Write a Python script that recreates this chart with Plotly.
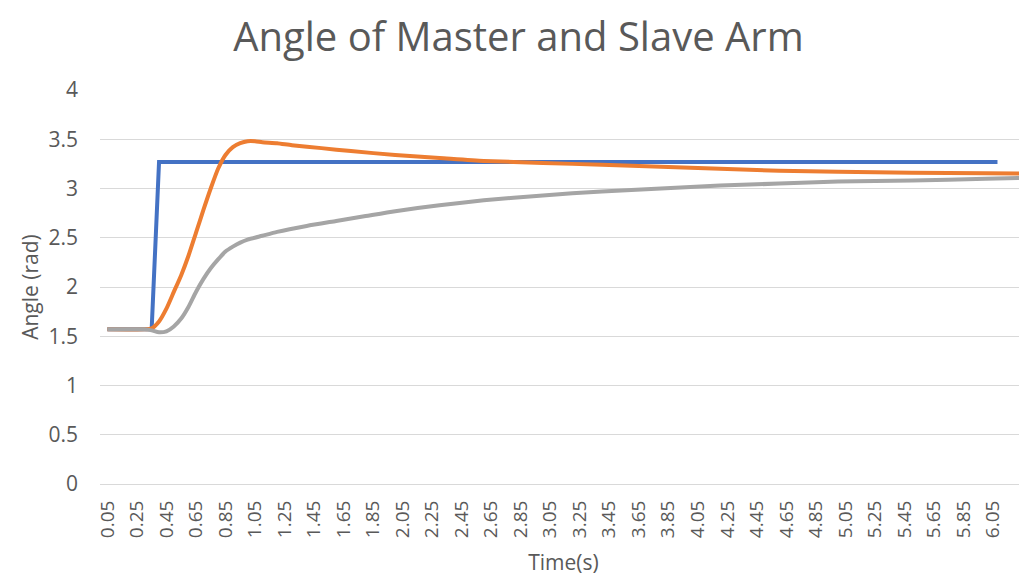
import plotly.graph_objects as go

# time samples (s) and angles (rad)
master_t = [0.05, 0.10, 0.15, 0.20, 0.25, 0.30, 0.35, 0.40, 1.00, 2.00, 3.00, 4.00, 5.00, 6.08]
master_angle = [1.57, 1.57, 1.57, 1.57, 1.57, 1.57, 1.57, 3.27, 3.27, 3.27, 3.27, 3.27, 3.27, 3.27]

slave_t = [0.05, 0.30, 0.35, 0.40, 0.45, 0.50, 0.55, 0.60, 0.65, 0.70, 0.75, 0.80, 0.85,
           0.90, 0.95, 1.00, 1.05, 1.10, 1.20, 1.30, 1.50, 1.70, 2.00, 2.30, 2.60, 3.00,
           3.40, 3.80, 4.20, 4.60, 5.00, 5.50, 6.00, 6.30]
slave_angle = [1.57, 1.57, 1.58, 1.65, 1.78, 1.95, 2.12, 2.32, 2.55, 2.78, 3.00, 3.20, 3.34,
               3.42, 3.46, 3.48, 3.48, 3.47, 3.46, 3.44, 3.41, 3.38, 3.34, 3.31, 3.28, 3.26,
               3.24, 3.22, 3.20, 3.18, 3.17, 3.16, 3.155, 3.15]

third_t = [0.05, 0.30, 0.35, 0.40, 0.45, 0.50, 0.55, 0.60, 0.65, 0.70, 0.75, 0.80, 0.85,
           0.90, 0.95, 1.00, 1.10, 1.20, 1.40, 1.60, 1.80, 2.00, 2.30, 2.60, 3.00, 3.40,
           3.80, 4.20, 4.60, 5.00, 5.50, 6.00, 6.30]
third_angle = [1.57, 1.57, 1.56, 1.54, 1.55, 1.60, 1.68, 1.80, 1.95, 2.08, 2.19, 2.28, 2.36,
               2.41, 2.45, 2.48, 2.52, 2.56, 2.62, 2.67, 2.72, 2.77, 2.83, 2.88, 2.93, 2.97,
               3.00, 3.03, 3.05, 3.07, 3.08, 3.10, 3.11]

tick_vals = [round(0.05 + 0.2 * i, 2) for i in range(31)]
tick_text = [f"{v:.2f}" for v in tick_vals]

fig = go.Figure()
fig.add_trace(go.Scatter(x=master_t, y=master_angle, mode='lines',
                         line=dict(color='#4472C4', width=4)))
fig.add_trace(go.Scatter(x=slave_t, y=slave_angle, mode='lines',
                         line=dict(color='#ED7D31', width=4, shape='spline', smoothing=0.6)))
fig.add_trace(go.Scatter(x=third_t, y=third_angle, mode='lines',
                         line=dict(color='#A5A5A5', width=4, shape='spline', smoothing=0.6)))

# page body has an 8px margin, so the figure is offset by 8px
fig.update_layout(
    width=1027, height=584,
    paper_bgcolor='white', plot_bgcolor='white',
    showlegend=False,
    margin=dict(l=92, r=8, t=82, b=108),
    font=dict(family='Open Sans', color='#595959', size=18),
    title=dict(text='Angle of Master and Slave Arm', x=0.497, xanchor='center',
               y=1 - 29 / 584, yanchor='middle', yref='container',
               font=dict(family='Open Sans', size=40, color='#595959', weight=400)),
    xaxis=dict(range=[0, 6.28], tickmode='array', tickvals=tick_vals, ticktext=tick_text,
               tickangle=-90, showgrid=False, zeroline=False, showline=True,
               linecolor='#d9d9d9', linewidth=1, ticks='', ticklabelstandoff=8,
               tickfont=dict(size=19),
               title=dict(text='Time(s)', font=dict(size=21), standoff=18)),
    yaxis=dict(range=[0, 4], dtick=0.5, showgrid=True, gridcolor='#d9d9d9', gridwidth=1,
               zeroline=False, showline=False, ticks='', ticklabelstandoff=21,
               tickfont=dict(size=21),
               title=dict(text='Angle (rad)', font=dict(size=21), standoff=4)),
)

fig.write_html("out.html")
